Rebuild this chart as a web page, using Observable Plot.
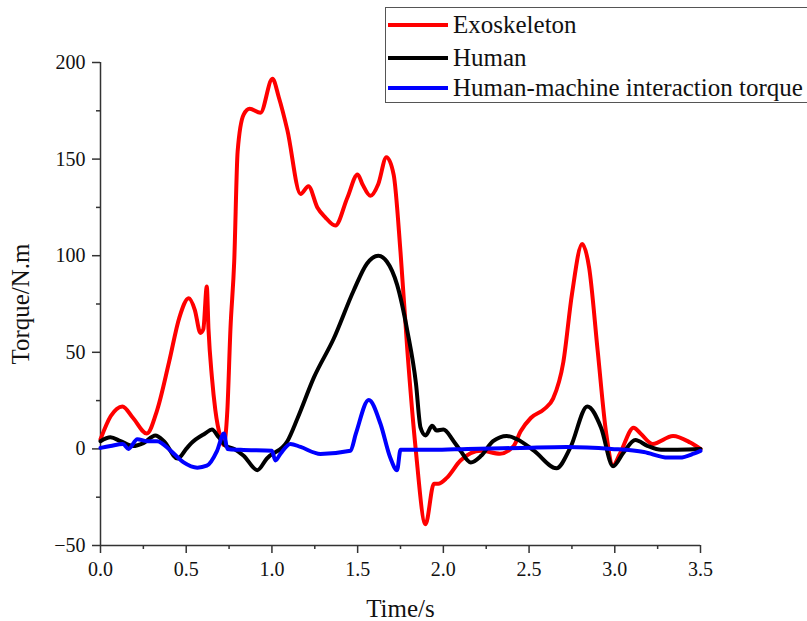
<!DOCTYPE html>
<html>
<head>
<meta charset="utf-8">
<script src="https://cdn.jsdelivr.net/npm/d3@7"></script>
<script src="https://cdn.jsdelivr.net/npm/@observablehq/plot@0.6"></script>
<style>
  html, body { margin: 0; padding: 0; background: #fff; }
  #wrap { position: relative; width: 807px; height: 621px; overflow: hidden; font-family: "Liberation Serif", "Times New Roman", serif; }
  #legend { position: absolute; left: 385px; top: 7px; width: 430px; height: 96px; border: 1px solid #555; background: #fff; box-sizing: border-box; }
  .row { position: absolute; left: 2px; height: 30px; display: flex; align-items: center; }
  .sw { width: 60px; height: 4px; margin-right: 5px; }
  .lbl { font-size: 25px; color: #111; white-space: nowrap; }
</style>
</head>
<body>
<div id="wrap"><div id="chart"></div><div id="legend"></div></div>
<script>
// Series names and colours
const seriesNames = ["Exoskeleton", "Human", "Human-machine interaction torque"];
const seriesColors = ["#ff0000", "#000000", "#0000ff"];

// Exoskeleton torque (time s, torque N.m)
const exoT = [0, 0.06, 0.128, 0.19, 0.27, 0.33, 0.4, 0.46, 0.515, 0.55, 0.583, 0.6, 0.62, 0.63, 0.65, 0.67, 0.70, 0.718, 0.74, 0.758, 0.78, 0.8, 0.835, 0.87, 0.933, 1.003, 1.04, 1.09, 1.167, 1.213, 1.265, 1.31, 1.37, 1.44, 1.5, 1.528, 1.575, 1.62, 1.668, 1.71, 1.75, 1.79, 1.838, 1.896, 1.945, 1.97, 2.02, 2.1, 2.22, 2.33, 2.41, 2.45, 2.51, 2.59, 2.64, 2.70, 2.75, 2.81, 2.85, 2.9, 2.95, 2.99, 3.03, 3.11, 3.15, 3.22, 3.34, 3.44, 3.5];
const exoV = [5, 17, 22, 16, 8, 20, 45, 68, 78, 72, 60, 62, 84, 62, 37, 20, 6, 2, 20, 62, 97, 154, 173, 176, 174, 191.6, 182, 165, 132, 136, 125, 120, 115.6, 130, 142, 137, 131, 137, 151, 142, 102, 51, 0.5, -39, -18, -18, -15, -6, -1, -2.5, 1.5, 9, 16, 20.7, 26, 45, 80, 106, 94, 51, 8, -8.5, -2.5, 11, 8, 2.6, 6.7, 3.3, 0];

// Human torque
const humT = [0, 0.058, 0.117, 0.19, 0.25, 0.32, 0.37, 0.45, 0.5, 0.53, 0.61, 0.65, 0.69, 0.73, 0.78, 0.835, 0.915, 0.97, 1.09, 1.15, 1.245, 1.36, 1.477, 1.555, 1.62, 1.67, 1.73, 1.79, 1.84, 1.867, 1.896, 1.935, 1.96, 2.0, 2.06, 2.1, 2.16, 2.22, 2.29, 2.37, 2.43, 2.53, 2.66, 2.74, 2.84, 2.92, 2.99, 3.05, 3.12, 3.19, 3.27, 3.5];
const humV = [4, 6, 4, 1.5, 3, 7, 4, -5, 0, 3, 8, 10, 6, 1.6, 0, -3.5, -11, -5, 4, 16, 37, 57, 82, 96, 100, 97, 85, 61, 34, 11, 7, 12, 9.5, 10, 4, -1, -7, -3.6, 4, 6.7, 5, -1, -10, 0.5, 22, 11, -9, -2, 4.6, 1.6, -0.5, 0];

// Human-machine interaction torque
const intT = [0, 0.058, 0.13, 0.163, 0.215, 0.27, 0.33, 0.41, 0.485, 0.565, 0.62, 0.68, 0.72, 0.74, 0.817, 1.0, 1.02, 1.05, 1.108, 1.167, 1.283, 1.458, 1.49, 1.565, 1.633, 1.69, 1.73, 1.75, 1.94, 2.14, 2.45, 2.72, 2.98, 3.17, 3.31, 3.38, 3.46, 3.5];
const intV = [0.5, 1.5, 2.6, 0, 5, 4, 4, -1, -7, -9.7, -8.7, -1, 8, 0, -0.5, -1, -6, -2.5, 2.6, 1, -2.6, -1, 8, 25.3, 13, -4.5, -11, -0.5, -0.5, 0, 0.5, 1, 0, -1.6, -4.5, -4.5, -2.5, -1];

// Ticks
const xMajor = [0, 0.5, 1.0, 1.5, 2.0, 2.5, 3.0, 3.5];
const xMinor = [0.25, 0.75, 1.25, 1.75, 2.25, 2.75, 3.25];
const yMajor = [-50, 0, 50, 100, 150, 200];
const yMinor = [-25, 25, 75, 125, 175];
const xTitle = "Time/s";
const yTitle = "Torque/N.m";

const toRows = (ts, vs, s) => ts.map((t, i) => ({t, v: vs[i], s}));
const data = [
  ...toRows(exoT, exoV, seriesNames[0]),
  ...toRows(humT, humV, seriesNames[1]),
  ...toRows(intT, intV, seriesNames[2])
];

const axisColor = "#333";
const chart = Plot.plot({
  width: 807,
  height: 621,
  marginLeft: 100,
  marginRight: 107,
  marginTop: 62,
  marginBottom: 76,
  style: {fontFamily: "'Liberation Serif', 'Times New Roman', serif", fontSize: "20px", color: "#111", background: "#fff", overflow: "visible"},
  x: {domain: [0, 3.5]},
  y: {domain: [-50, 200]},
  color: {domain: seriesNames, range: seriesColors},
  marks: [
    Plot.axisX(xMajor, {tickSize: 8, tickPadding: 8, tickFormat: d3.format(".1f"), stroke: axisColor, strokeWidth: 1.5, label: null, fontSize: 20}),
    Plot.axisX(xMinor, {tickSize: 4, text: null, stroke: axisColor, strokeWidth: 1.5, label: null}),
    Plot.axisY(yMajor, {tickSize: 8, tickPadding: 7, stroke: axisColor, strokeWidth: 1.5, label: null, fontSize: 20}),
    Plot.axisY(yMinor, {tickSize: 4, text: null, stroke: axisColor, strokeWidth: 1.5, label: null}),
    Plot.ruleX([0], {stroke: axisColor, strokeWidth: 1.5}),
    Plot.ruleY([-50], {stroke: axisColor, strokeWidth: 1.5}),
    Plot.line(data, {x: "t", y: "v", z: "s", stroke: "s", strokeWidth: 4, curve: "monotone-x"}),
    Plot.text([yTitle], {frameAnchor: "left", dx: -80, rotate: -90, textAnchor: "middle", lineAnchor: "middle", fontSize: 25}),
    Plot.text([xTitle], {frameAnchor: "bottom", dy: 63, textAnchor: "middle", lineAnchor: "middle", fontSize: 25})
  ]
});
document.getElementById("chart").appendChild(chart);

// Legend
const legend = document.getElementById("legend");
const rowTops = [2, 35, 65];
seriesNames.forEach((name, i) => {
  const row = document.createElement("div");
  row.className = "row";
  row.style.top = rowTops[i] + "px";
  const sw = document.createElement("div");
  sw.className = "sw";
  sw.style.background = seriesColors[i];
  const lbl = document.createElement("span");
  lbl.className = "lbl";
  lbl.textContent = name;
  row.appendChild(sw);
  row.appendChild(lbl);
  legend.appendChild(row);
});
</script>
</body>
</html>
